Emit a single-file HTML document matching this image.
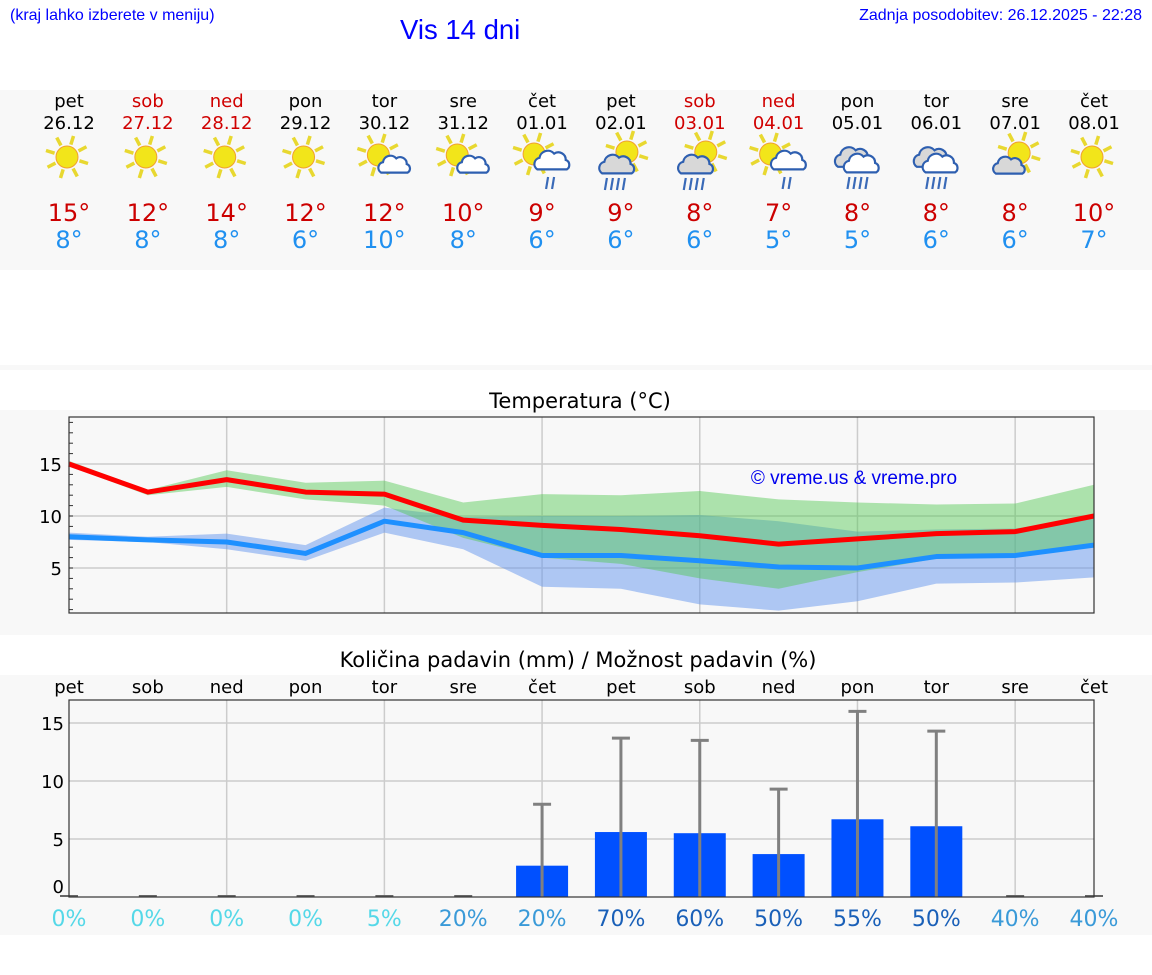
<!DOCTYPE html>
<html><head><meta charset="utf-8">
<style>
body{margin:0;width:1152px;height:975px;background:#fff;font-family:"DejaVu Sans","Liberation Sans",sans-serif;position:relative;overflow:hidden}
.abs{position:absolute}
.hd{font-family:"Liberation Sans",sans-serif}
</style></head><body>
<div class="abs hd" style="left:10px;top:7px;font-size:16px;color:#00f">(kraj lahko izberete v meniju)</div>
<div class="abs hd" style="left:400px;top:14px;font-size:27.5px;color:#00f">Vis 14 dni</div>
<div class="abs hd" style="right:10px;top:7px;font-size:16px;color:#00f">Zadnja posodobitev: 26.12.2025 - 22:28</div>
<div class="abs" style="left:0;top:90px;width:1152px;height:180px;background:#f8f8f8"></div>
<div class="abs" style="left:0;top:365px;width:1152px;height:5px;background:#f8f8f8"></div>
<div class="abs" style="left:0;top:410px;width:1152px;height:225px;background:#f8f8f8"></div>
<div class="abs" style="left:0;top:675px;width:1152px;height:260px;background:#f8f8f8"></div>
<svg id="svg" class="abs" style="left:0;top:0" width="1152" height="975"></svg>
<script>
const days=["pet","sob","ned","pon","tor","sre","čet","pet","sob","ned","pon","tor","sre","čet"];
const dates=["26.12","27.12","28.12","29.12","30.12","31.12","01.01","02.01","03.01","04.01","05.01","06.01","07.01","08.01"];
const weekend=[0,1,1,0,0,0,0,0,1,1,0,0,0,0];
const icons=["sun","sun","sun","sun","suncloud","suncloud","sunrain","cloudsunrain","cloudsunrain","sunrain","clouds","clouds","cloudsun","sun"];
const hiLabels=[15,12,14,12,12,10,9,9,8,7,8,8,8,10];
const loLabels=[8,8,8,6,10,8,6,6,6,5,5,6,6,7];
const maxT=[15,12.3,13.5,12.3,12.1,9.6,9.1,8.7,8.1,7.3,7.8,8.3,8.5,10.0];
const minT=[8.0,7.7,7.5,6.4,9.5,8.4,6.2,6.2,5.7,5.1,5.0,6.1,6.2,7.2];
const maxHi=[15.3,12.5,14.4,13.2,13.4,11.3,12.1,12.0,12.4,11.6,11.3,11.1,11.2,13.0];
const maxLo=[14.8,12.0,12.8,11.6,11.0,7.9,6.0,5.4,4.0,3.0,4.6,5.9,6.0,7.0];
const minHi=[8.4,8.0,8.3,7.2,10.8,9.9,10.0,10.0,10.1,9.5,8.5,8.7,8.8,9.8];
const minLo=[7.7,7.5,6.8,5.7,8.4,6.8,3.2,3.0,1.5,0.9,1.8,3.5,3.6,4.1];
const precip=[0,0,0,0,0,0,2.7,5.6,5.5,3.7,6.7,6.1,0,0];
const precipMax=[0,0,0,0,0,0,8.0,13.7,13.5,9.3,16.0,14.3,0,0];
const prob=[0,0,0,0,5,20,20,70,60,50,55,50,40,40];
const tTicks=[5,10,15];
const pTicks=[0,5,10,15];

const svg=document.getElementById('svg');
const NS='http://www.w3.org/2000/svg';
function el(tag,attrs,parent){const e=document.createElementNS(NS,tag);for(const k in attrs)e.setAttribute(k,attrs[k]);(parent||svg).appendChild(e);return e;}
function txt(s,attrs,parent){const e=el('text',attrs,parent);e.textContent=s;return e;}
const x0=69,x1=1094,dx=(x1-x0)/13;
const X=i=>x0+i*dx;
const tTop=417,tBot=613;
const TY=v=>516-(v-10)*10.4;
const pTop=700,pBot=897;
const PY=v=>pBot-v*11.6;

function sun(g,cx,cy,r){
  for(let k=0;k<8;k++){const a=k*Math.PI/4+0.3;
    el('line',{x1:cx+Math.cos(a)*(r+2),y1:cy+Math.sin(a)*(r+2),x2:cx+Math.cos(a)*(r+11),y2:cy+Math.sin(a)*(r+11),stroke:'#e8d830','stroke-width':3.5},g);}
  el('circle',{cx,cy,r,fill:'#f2e51a',stroke:'#f0a030','stroke-width':1},g);
}
function cloud(g,cx,cy,s,fill){
  const p=`M${cx-14*s},${cy+8*s} a${6*s},${6*s} 0 0 1 ${2*s},${-11*s} a${8*s},${8*s} 0 0 1 ${14*s},${-4*s} a${7*s},${7*s} 0 0 1 ${11*s},${6*s} a${5*s},${5*s} 0 0 1 ${1*s},${9*s} z`;
  el('path',{d:p,fill:fill,stroke:'#2e5fb0','stroke-width':2.2},g);
}
function rain(g,cx,cy,n){for(let k=0;k<n;k++){el('line',{x1:cx+k*6-(n-1)*3+1,y1:cy,x2:cx+k*6-(n-1)*3-1,y2:cy+12,stroke:'#3a6ab8','stroke-width':2.2},g);}}

for(let i=0;i<14;i++){
  const cx=X(i);
  const col=weekend[i]?'#d00000':'#000';
  const d=txt(days[i],{x:cx,y:107,'text-anchor':'middle','font-size':18,fill:col});
  
  const dt=txt(dates[i],{x:cx,y:129,'text-anchor':'middle','font-size':18,fill:col});
  
  const g=el('g',{});
  
  const t=icons[i];
  if(t==='sun')sun(g,cx-2,157,11);
  else if(t==='suncloud'){sun(g,cx-6,155,11);cloud(g,cx+10,165,0.95,'#fff');}
  else if(t==='sunrain'){sun(g,cx-8,154,11);cloud(g,cx+10,161,1.05,'#fff');rain(g,cx+8,177,2);}
  else if(t==='cloudsunrain'){sun(g,cx+6,152,11);cloud(g,cx-4,165,1.05,'#d8d8d8');rain(g,cx-6,178,4);}
  else if(t==='cloudsun'){sun(g,cx+4,153,11);cloud(g,cx-6,166,0.95,'#d8d8d8');}
  else if(t==='clouds'){cloud(g,cx-4,158,1.1,'#d8d8d8');cloud(g,cx+4,164,1.05,'#fff');rain(g,cx,177,4);}
  const h=txt(hiLabels[i]+'°',{x:cx,y:221,'text-anchor':'middle','font-size':24,fill:'#cc0000'});
  
  const l=txt(loLabels[i]+'°',{x:cx,y:248,'text-anchor':'middle','font-size':24,fill:'#2090f0'});
  
}

const tt=txt('Temperatura (°C)',{x:580,y:408,'text-anchor':'middle','font-size':21,fill:'#000'});

el('rect',{x:x0,y:tTop,width:x1-x0,height:tBot-tTop,fill:'#f8f8f8'});
for(let i=2;i<14;i+=2){const gl=el('line',{x1:X(i),y1:tTop,x2:X(i),y2:tBot,stroke:'#ccc','stroke-width':1.5});}
tTicks.forEach(v=>{el('line',{x1:x0,y1:TY(v),x2:x1,y2:TY(v),stroke:'#ccc','stroke-width':1.5});
  const lb=txt(v,{x:62,y:TY(v)+7,'text-anchor':'end','font-size':18,fill:'#000'});
  });
for(let v=1;v<=19;v++){el('line',{x1:x0,y1:TY(v),x2:x0+4,y2:TY(v),stroke:'#333','stroke-width':1});}
function band(hi,lo,fill,name){
  let d='M'+hi.map((v,i)=>X(i)+','+TY(v)).join(' L')+' L'+lo.map((v,i)=>X(i)+','+TY(v)).reverse().join(' L')+'Z';
  const p=el('path',{d,fill,stroke:'none'});
}
band(minHi,minLo,'rgba(100,149,237,0.5)','min-temp-range');
band(maxHi,maxLo,'rgba(80,200,80,0.45)','max-temp-range');
function line(arr,col,name){const p=el('polyline',{points:arr.map((v,i)=>X(i)+','+TY(v)).join(' '),fill:'none',stroke:col,'stroke-width':5,'stroke-linejoin':'round'});}
line(minT,'#1e90ff','min-temp-line');
line(maxT,'#ff0000','max-temp-line');
el('rect',{x:x0,y:tTop,width:x1-x0,height:tBot-tTop,fill:'none',stroke:'#333','stroke-width':1.2});
const cp=txt('© vreme.us & vreme.pro',{x:854,y:484,'text-anchor':'middle','font-size':19,fill:'#0000ee','font-family':'Liberation Sans, sans-serif'});


const pt=txt('Količina padavin (mm) / Možnost padavin (%)',{x:578,y:667,'text-anchor':'middle','font-size':21,fill:'#000'});

for(let i=0;i<14;i++){const d=txt(days[i],{x:X(i),y:693,'text-anchor':'middle','font-size':18,fill:'#000'});}
for(let i=2;i<14;i+=2){el('line',{x1:X(i),y1:pTop,x2:X(i),y2:pBot,stroke:'#ccc','stroke-width':1.5});}
pTicks.forEach(v=>{if(v>0)el('line',{x1:x0,y1:PY(v),x2:x1,y2:PY(v),stroke:'#ccc','stroke-width':1.5});
  const lb=txt(v,{x:64,y:(v===0?PY(v)-4:PY(v)+7),'text-anchor':'end','font-size':18,fill:'#000'});
  });
for(let i=0;i<14;i++){
  const cx=X(i);
  if(precip[i]>0){const b=el('rect',{x:cx-26,y:PY(precip[i]),width:52,height:PY(0)-PY(precip[i]),fill:'#0050ff'});
    }
  if(precipMax[i]>0){const e=el('path',{d:`M${cx},${PY(0)} L${cx},${PY(precipMax[i])} M${cx-9},${PY(precipMax[i])} L${cx+9},${PY(precipMax[i])}`,stroke:'#808080','stroke-width':3,fill:'none'});
    }
  else el('line',{x1:cx-9,y1:pBot-1,x2:cx+9,y2:pBot-1,stroke:'#666','stroke-width':2});
  const p=prob[i];
  const c=p<=5?'#55d8e8':p<=40?'#3a9ad8':'#1a60b8';
  const pl=txt(p+'%',{x:cx,y:926,'text-anchor':'middle','font-size':22,fill:c});
  
}
el('rect',{x:x0,y:pTop,width:x1-x0,height:pBot-pTop,fill:'none',stroke:'#333','stroke-width':1.2});
</script>
</body></html>
